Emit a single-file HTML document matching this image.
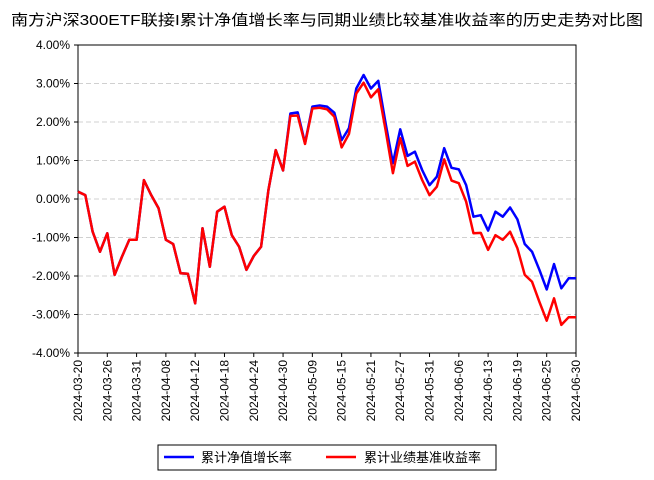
<!DOCTYPE html>
<html><head><meta charset="utf-8"><style>
body{margin:0;background:#fff;}
svg{display:block;font-family:"Liberation Sans","Noto Sans CJK SC",sans-serif;}
</style></head><body>
<svg id="c" width="654" height="480">
<text x="327" y="25" text-anchor="middle" font-size="15" textLength="632" lengthAdjust="spacingAndGlyphs" fill="#000">南方沪深300ETF联接I累计净值增长率与同期业绩比较基准收益率的历史走势对比图</text>
<g id="grid"></g><g id="axes"></g><g id="series"></g>
<g>
<rect x="158" y="445" width="338" height="25" fill="#fff" stroke="#000" stroke-width="1"/>
<line x1="164" y1="457" x2="194" y2="457" stroke="#0000ff" stroke-width="2.5"/>
<text x="201" y="462" font-size="13">累计净值增长率</text>
<line x1="326" y1="457" x2="356" y2="457" stroke="#ff0000" stroke-width="2.5"/>
<text x="364" y="462" font-size="13">累计业绩基准收益率</text>
</g>
</svg>
<script>
const tickLabels=["2024-03-20","2024-03-26","2024-03-31","2024-04-08","2024-04-12","2024-04-18","2024-04-24","2024-04-30","2024-05-09","2024-05-15","2024-05-21","2024-05-27","2024-05-31","2024-06-06","2024-06-13","2024-06-19","2024-06-25","2024-06-30"];
const yTicks=[4,3,2,1,0,-1,-2,-3,-4];
const benchmark=[0.19,0.10,-0.85,-1.37,-0.89,-1.97,-1.50,-1.06,-1.06,0.49,0.10,-0.24,-1.06,-1.17,-1.93,-1.94,-2.71,-0.76,-1.76,-0.33,-0.20,-0.94,-1.24,-1.84,-1.48,-1.24,0.23,1.27,0.74,2.16,2.17,1.43,2.35,2.37,2.33,2.14,1.34,1.69,2.74,3.02,2.64,2.85,1.79,0.67,1.58,0.86,0.97,0.49,0.10,0.32,1.03,0.48,0.41,-0.07,-0.89,-0.88,-1.32,-0.94,-1.06,-0.85,-1.28,-1.97,-2.15,-2.67,-3.16,-2.58,-3.27,-3.07,-3.07];
const fund=[0.19,0.10,-0.85,-1.37,-0.89,-1.97,-1.50,-1.06,-1.06,0.49,0.10,-0.24,-1.06,-1.17,-1.93,-1.94,-2.71,-0.76,-1.76,-0.33,-0.20,-0.94,-1.24,-1.84,-1.48,-1.24,0.23,1.27,0.74,2.22,2.25,1.45,2.40,2.43,2.40,2.24,1.53,1.84,2.87,3.22,2.87,3.07,1.97,0.93,1.81,1.12,1.23,0.75,0.36,0.58,1.32,0.81,0.77,0.36,-0.46,-0.42,-0.82,-0.33,-0.46,-0.22,-0.53,-1.17,-1.37,-1.84,-2.35,-1.69,-2.32,-2.06,-2.06];
const X0=78,X1=576,Y0=45,Y1=353,NS="http://www.w3.org/2000/svg";
const yS=v=>Y0+(4-v)/8*(Y1-Y0);
const xS=i=>X0+i*(X1-X0)/(fund.length-1);
function mk(t,a,p){const e=document.createElementNS(NS,t);for(const k in a)e.setAttribute(k,a[k]);p.appendChild(e);return e;}
const grid=document.getElementById('grid'),axes=document.getElementById('axes'),ser=document.getElementById('series');
yTicks.forEach(v=>{
 const y=yS(v);
 if(v<4&&v>-4){const g=mk('line',{x1:X0,x2:X1,y1:y,y2:y,stroke:'#d0d0d0','stroke-dasharray':'5,3','stroke-width':1},grid);
 
 }
 mk('line',{x1:X0-4,x2:X0,y1:y,y2:y,stroke:'#000'},axes);
 const t=mk('text',{x:X0-8,y:y+4,'text-anchor':'end','font-size':12},axes);t.textContent=v.toFixed(2)+'%';
 
 
});
tickLabels.forEach((l,i)=>{
 const x=X0+i*(X1-X0)/(tickLabels.length-1);
 mk('line',{x1:x,x2:x,y1:Y1,y2:Y1+4,stroke:'#000'},axes);
 const t=mk('text',{x:0,y:0,'text-anchor':'end','font-size':12,transform:`translate(${x+4},${Y1+7}) rotate(-90)`},axes);t.textContent=l;
 
 
});
const fr=mk('rect',{x:X0,y:Y0,width:X1-X0,height:Y1-Y0,fill:'none',stroke:'#000','stroke-width':1},axes);


function line(d,c,n){const p=mk('polyline',{points:d.map((v,i)=>xS(i)+','+yS(v)).join(' '),fill:'none',stroke:c,'stroke-width':2.5,'stroke-linejoin':'round'},ser);
 
 }
line(fund,'#0000ff','fund-line');
line(benchmark,'#ff0000','benchmark-line');
</script>
</body></html>
